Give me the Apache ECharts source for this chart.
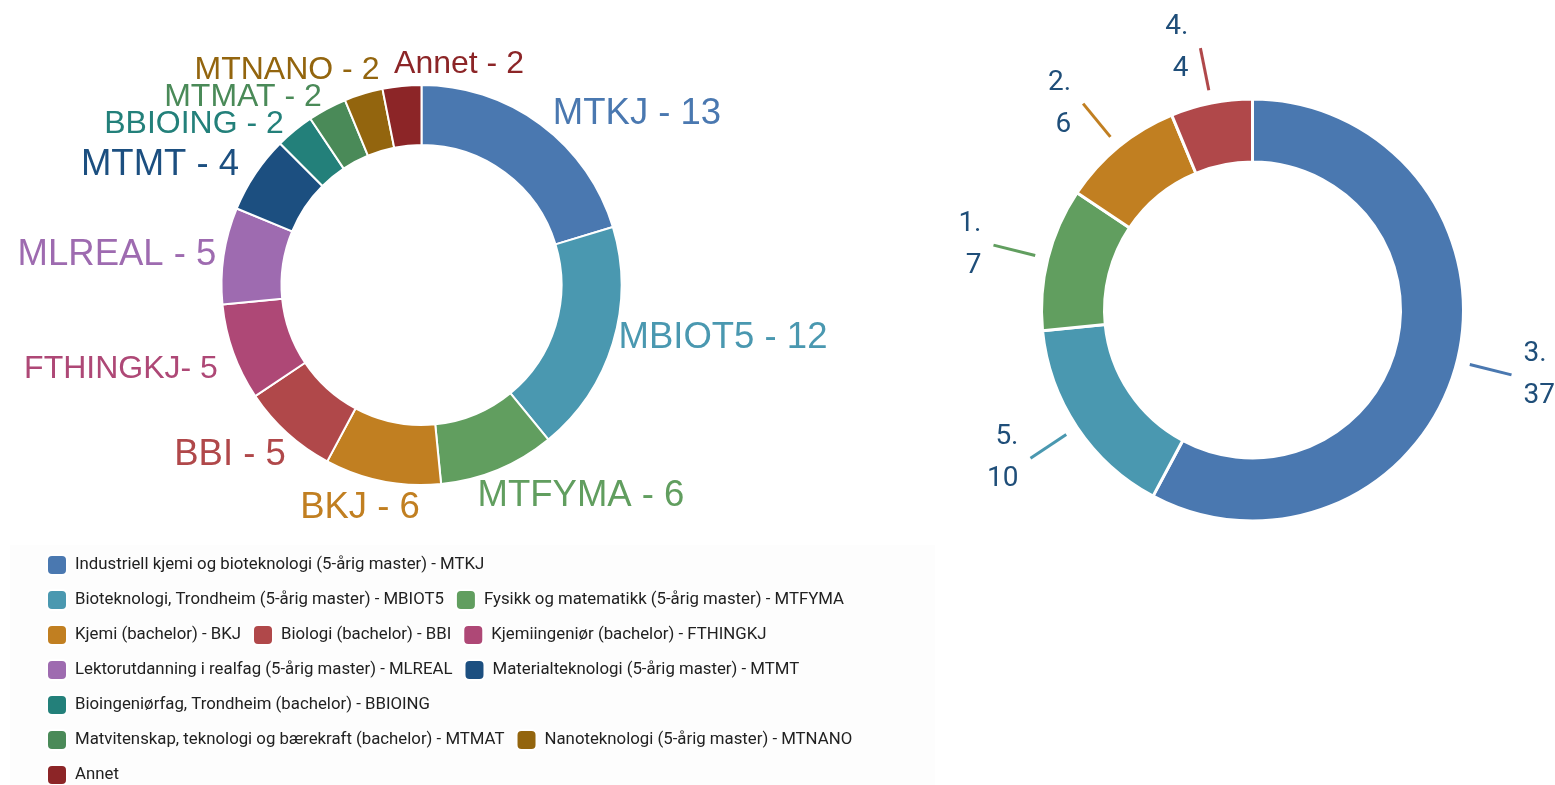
<!DOCTYPE html>
<html>
<head>
<meta charset="utf-8">
<title>Studieprogram</title>
<script src="https://cdn.jsdelivr.net/npm/echarts@6/dist/echarts.min.js"></script>
<style>
  html, body { margin: 0; padding: 0; background: #fff; }
  #main { width: 1555px; height: 785px; }
</style>
</head>
<body>
<div id="main"></div>
<script>
// venstre diagram: studieprogram
var programNames = [
  'Industriell kjemi og bioteknologi (5-årig master) - MTKJ',
  'Bioteknologi, Trondheim (5-årig master) - MBIOT5',
  'Fysikk og matematikk (5-årig master) - MTFYMA',
  'Kjemi (bachelor) - BKJ',
  'Biologi (bachelor) - BBI',
  'Kjemiingeniør (bachelor) - FTHINGKJ',
  'Lektorutdanning i realfag (5-årig master) - MLREAL',
  'Materialteknologi (5-årig master) - MTMT',
  'Bioingeniørfag, Trondheim (bachelor) - BBIOING',
  'Matvitenskap, teknologi og bærekraft (bachelor) - MTMAT',
  'Nanoteknologi (5-årig master) - MTNANO',
  'Annet'
]
var programPrefix = ['MTKJ -', 'MBIOT5 -', 'MTFYMA -', 'BKJ -', 'BBI -', 'FTHINGKJ-',
  'MLREAL -', 'MTMT -', 'BBIOING -', 'MTMAT -', 'MTNANO -', 'Annet -']
var programValues = [13, 12, 6, 6, 5, 5, 5, 4, 2, 2, 2, 2]

// høyre diagram: rangering
var rankLabels = ['3.', '5.', '1.', '2.', '4.']
var rankValues = [37, 10, 7, 6, 4]

// farger og etikettplassering
var programColors = ['#4a78b0', '#4a98b0', '#619e5f', '#c17f21', '#b0484a', '#ae4876',
  '#9e6bb0', '#1c4f80', '#23807a', '#4a8a58', '#93650e', '#8c2527']
var rankColors = ['#4a78b0', '#4a98b0', '#619e5f', '#c17f21', '#b0484a']
var labelSize = [36.5, 36.5, 36.5, 36.5, 36.5, 32, 36.5, 36.5, 32, 32, 32, 32]
var labelPos = [
  [637, 114], [723, 338], [581, 496], [360, 508], [230, 455], [121, 369],
  [117, 255], [160, 165], [194, 124], [243, 97], [287, 70], [459, 64]
]
// hvilke forklaringer som står på hver linje
var legendRows = [[0], [1, 2], [3, 4, 5], [6, 7], [8], [9, 10], [11]]

var myChart = echarts.init(document.getElementById('main'))

var programData = programNames.map(function (name, i) {
  return {
    name: name,
    value: programValues[i],
    itemStyle: { color: programColors[i] },
    label: { color: programColors[i], fontSize: labelSize[i] }
  }
})

var rankData = rankLabels.map(function (name, i) {
  return { name: name, value: rankValues[i], itemStyle: { color: rankColors[i] } }
})

// usynlig ring som bare bærer etikettlinjene (gir avstand fra ringen)
var rankLineData = rankLabels.map(function (name, i) {
  return {
    name: name,
    value: rankValues[i],
    labelLine: { lineStyle: { color: rankColors[i] } }
  }
})

var legends = legendRows.map(function (row, r) {
  return {
    data: row.map(function (i) { return programNames[i] }),
    left: 46,
    top: 554 + r * 35,
    padding: 0,
    itemWidth: 20,
    itemHeight: 20,
    itemGap: 11,
    icon: 'roundRect',
    selectedMode: false,
    textStyle: {
      fontFamily: 'Roboto',
      fontSize: 16.8,
      color: '#212121',
      padding: [0, 0, 0, 3]
    }
  }
})

var option = {
  backgroundColor: '#fff',
  animation: false,
  graphic: [{
    type: 'rect',
    z: -10,
    shape: { x: 10, y: 545, width: 925, height: 240 },
    style: { fill: '#fdfdfd' },
    silent: true
  }],
  legend: legends,
  series: [
    {
      type: 'pie',
      center: [421.5, 285],
      radius: [140, 200],
      startAngle: 90,
      avoidLabelOverlap: false,
      data: programData,
      itemStyle: { borderColor: '#fff', borderWidth: 2 },
      label: {
        show: true,
        position: 'outside',
        fontFamily: 'Liberation Sans, Arial, sans-serif',
        formatter: function (p) {
          return programPrefix[p.dataIndex] + ' ' + p.value
        }
      },
      labelLine: { show: false },
      labelLayout: function (p) {
        return {
          x: labelPos[p.dataIndex][0],
          y: labelPos[p.dataIndex][1],
          align: 'center',
          verticalAlign: 'middle'
        }
      },
      emphasis: { disabled: true }
    },
    {
      type: 'pie',
      center: [1252.5, 310],
      radius: [148, 211],
      startAngle: 90,
      data: rankData,
      itemStyle: { borderColor: '#fff', borderWidth: 3 },
      label: { show: false },
      labelLine: { show: false },
      emphasis: { disabled: true }
    },
    {
      type: 'pie',
      center: [1252.5, 310],
      radius: [223, 224],
      startAngle: 90,
      silent: true,
      avoidLabelOverlap: false,
      data: rankLineData,
      itemStyle: { color: 'rgba(0,0,0,0)', borderWidth: 0 },
      label: {
        show: true,
        position: 'outside',
        fontFamily: 'Roboto',
        fontSize: 28,
        lineHeight: 42,
        color: '#1f4e79',
        distanceToLabelLine: 12,
        formatter: function (p) {
          return rankLabels[p.dataIndex] + '\n' + p.value
        }
      },
      labelLine: {
        show: true,
        length: 43,
        length2: 0,
        lineStyle: { width: 3 }
      },
      emphasis: { disabled: true }
    }
  ]
}
myChart.setOption(option)
</script>
</body>
</html>
